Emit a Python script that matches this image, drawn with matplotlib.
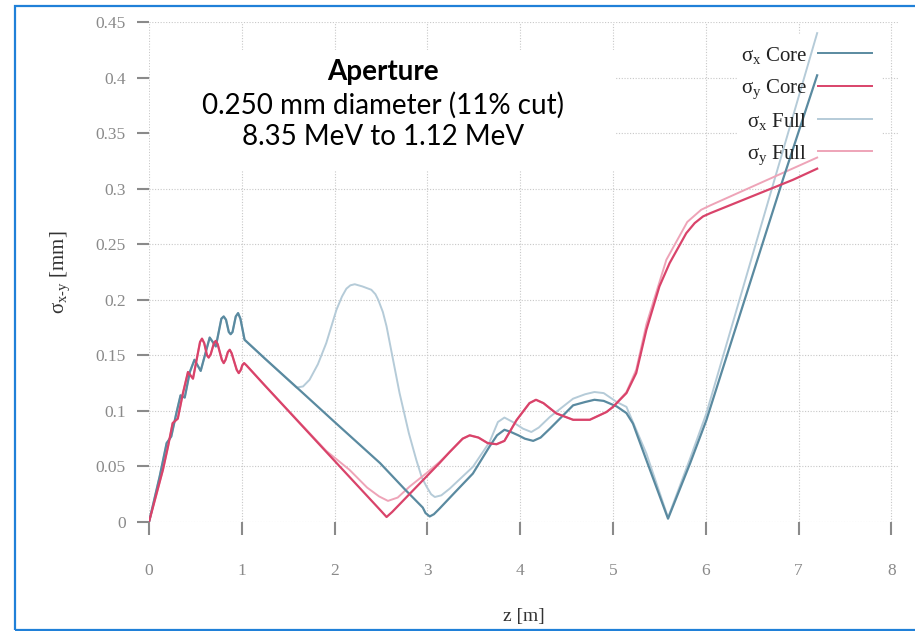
import matplotlib
matplotlib.use("Agg")
import matplotlib.pyplot as plt
from matplotlib.patches import Rectangle

plt.rcParams["font.family"] = ["Liberation Serif", "DejaVu Serif"]
plt.rcParams["mathtext.fontset"] = "custom"
plt.rcParams["mathtext.rm"] = "Liberation Serif"
plt.rcParams["mathtext.it"] = "Liberation Serif:italic"

# sigma_x core
z_sx_core = [0, 0.115, 0.19, 0.24, 0.295, 0.34, 0.385, 0.44, 0.49, 0.557, 0.654,
             0.72, 0.78, 0.805, 0.83, 0.86, 0.88, 0.90, 0.935, 0.96, 0.985, 1.03,
             1.25, 1.62, 2.0, 2.49, 2.75, 2.95, 2.98, 3.025, 3.07, 3.13, 3.3, 3.49,
             3.67, 3.75, 3.83, 3.9, 3.98, 4.05, 4.14, 4.22, 4.32, 4.57, 4.7, 4.80,
             4.9, 5.04, 5.145, 5.215, 5.36, 5.593, 5.83, 6.006, 6.83, 7.2]
y_sx_core = [0, 0.041, 0.071, 0.077, 0.098, 0.114, 0.112, 0.135, 0.146, 0.136, 0.166,
             0.158, 0.183, 0.185, 0.182, 0.171, 0.169, 0.171, 0.185, 0.188, 0.183, 0.164,
             0.147, 0.119, 0.090, 0.053, 0.030, 0.013, 0.008, 0.005, 0.007, 0.012, 0.027, 0.0436,
             0.068, 0.078, 0.083, 0.081, 0.078, 0.075, 0.073, 0.076, 0.084, 0.105, 0.108, 0.110,
             0.109, 0.104, 0.098, 0.0886, 0.0556, 0.003, 0.0526, 0.0916, 0.308, 0.402]

# sigma_x full
z_sx_full = [0, 0.115, 0.19, 0.24, 0.295, 0.34, 0.385, 0.44, 0.49, 0.557, 0.654,
             0.72, 0.78, 0.805, 0.83, 0.86, 0.88, 0.90, 0.935, 0.96, 0.985, 1.03,
             1.25, 1.59, 1.66, 1.73, 1.82, 1.91, 2.02, 2.08, 2.127, 2.17, 2.217, 2.30,
             2.396, 2.44, 2.47, 2.52, 2.56, 2.63, 2.70, 2.80, 2.88, 2.94, 2.99, 3.04,
             3.08, 3.15, 3.24, 3.49, 3.67, 3.76, 3.83, 3.92, 4.03, 4.12, 4.2, 4.32,
             4.57, 4.7, 4.80, 4.9, 5.04, 5.145, 5.36, 5.593, 5.83, 6.006, 6.74, 7.2]
y_sx_full = [0, 0.041, 0.071, 0.077, 0.098, 0.114, 0.112, 0.135, 0.146, 0.136, 0.166,
             0.158, 0.183, 0.185, 0.182, 0.171, 0.169, 0.171, 0.185, 0.188, 0.183, 0.164,
             0.147, 0.121, 0.122, 0.128, 0.142, 0.161, 0.191, 0.203, 0.210, 0.213, 0.214, 0.212,
             0.209, 0.205, 0.200, 0.189, 0.176, 0.146, 0.116, 0.080, 0.056, 0.040, 0.032, 0.025,
             0.0225, 0.024, 0.030, 0.0496, 0.072, 0.090, 0.094, 0.090, 0.084, 0.081, 0.085, 0.0946,
             0.111, 0.115, 0.117, 0.116, 0.108, 0.1036, 0.0616, 0.004, 0.057, 0.0977, 0.308, 0.440]

# sigma_y core
z_sy_core = [0, 0.15, 0.205, 0.255, 0.31, 0.366, 0.42, 0.474, 0.55, 0.571, 0.595,
             0.625, 0.643, 0.665, 0.70, 0.719, 0.74, 0.785, 0.805, 0.825, 0.85, 0.87,
             0.89, 0.945, 0.967, 0.99, 1.005, 1.025, 1.05, 1.247, 2.0, 2.5, 2.56,
             2.62, 3.13, 3.24, 3.38, 3.456, 3.55, 3.65, 3.745, 3.83, 3.96, 4.1, 4.17,
             4.25, 4.39, 4.57, 4.75, 4.93, 5.0, 5.145, 5.25, 5.36, 5.50, 5.61, 5.79,
             5.88, 5.97, 6.05, 6.94, 7.2]
y_sy_core = [0, 0.047, 0.068, 0.089, 0.093, 0.116, 0.135, 0.129, 0.162, 0.165, 0.161,
             0.150, 0.148, 0.151, 0.161, 0.163, 0.160, 0.146, 0.143, 0.146, 0.153, 0.155,
             0.152, 0.137, 0.134, 0.137, 0.141, 0.143, 0.141, 0.123, 0.055, 0.010, 0.0045,
             0.009, 0.053, 0.063, 0.075, 0.078, 0.076, 0.071, 0.070, 0.073, 0.0916, 0.107, 0.110,
             0.107, 0.0977, 0.092, 0.092, 0.099, 0.1036, 0.116, 0.134, 0.173, 0.212, 0.233, 0.260,
             0.269, 0.275, 0.278, 0.308, 0.318]

# sigma_y full
z_sy_full = [0, 0.15, 0.205, 0.255, 0.31, 0.366, 0.42, 0.474, 0.55, 0.571, 0.595,
             0.625, 0.643, 0.665, 0.70, 0.719, 0.74, 0.785, 0.805, 0.825, 0.85, 0.87,
             0.89, 0.945, 0.967, 0.99, 1.005, 1.025, 1.05, 1.247, 1.91, 2.16, 2.35,
             2.48, 2.575, 2.68, 2.81, 2.99, 3.13, 3.24, 3.38, 3.456, 3.55, 3.65, 3.745,
             3.83, 3.96, 4.1, 4.17, 4.25, 4.39, 4.57, 4.75, 4.93, 5.0, 5.145, 5.25,
             5.36, 5.575, 5.80, 5.95, 6.05, 7.2]
y_sy_full = [0, 0.047, 0.068, 0.089, 0.093, 0.116, 0.135, 0.129, 0.162, 0.165, 0.161,
             0.150, 0.148, 0.151, 0.161, 0.163, 0.160, 0.146, 0.143, 0.146, 0.153, 0.155,
             0.152, 0.137, 0.134, 0.137, 0.141, 0.143, 0.141, 0.123, 0.064, 0.047, 0.031,
             0.023, 0.019, 0.022, 0.032, 0.044, 0.054, 0.063, 0.075, 0.078, 0.076, 0.071, 0.070,
             0.073, 0.0916, 0.107, 0.110, 0.107, 0.0977, 0.092, 0.092, 0.099, 0.1036, 0.117, 0.137,
             0.178, 0.236, 0.270, 0.281, 0.285, 0.328]

x_ticks = [0, 1, 2, 3, 4, 5, 6, 7, 8]
y_ticks = [0, 0.05, 0.1, 0.15, 0.2, 0.25, 0.3, 0.35, 0.4, 0.45]
y_tick_labels = ["0", "0.05", "0.1", "0.15", "0.2", "0.25", "0.3", "0.35", "0.4", "0.45"]

labels = ["σ$_{\\rm x}$ Core", "σ$_{\\rm y}$ Core", "σ$_{\\rm x}$ Full", "σ$_{\\rm y}$ Full"]
colors = ["#5a8aa0", "#d9436a", "#b5cbd8", "#eea4b8"]

annot_lines = ["Aperture", "0.250 mm diameter (11% cut)", "8.35 MeV to 1.12 MeV"]

W, H = 915, 631
fig = plt.figure(figsize=(W / 100, H / 100), dpi=100)
ax = fig.add_axes([149 / W, 109 / H, 749 / W, 500 / H])

ax.plot(z_sx_full, y_sx_full, color=colors[2], lw=1.4, zorder=2)
ax.plot(z_sy_full, y_sy_full, color=colors[3], lw=1.4, zorder=2)
ax.plot(z_sx_core, y_sx_core, color=colors[0], lw=1.6, zorder=3)
ax.plot(z_sy_core, y_sy_core, color=colors[1], lw=1.6, zorder=3)

ax.set_xlim(0, 749 / 92.8)
ax.set_ylim(0, 0.45)
ax.set_xticks(x_ticks)
ax.set_yticks(y_ticks)
ax.set_yticklabels(y_tick_labels)
for s in ax.spines.values():
    s.set_visible(False)
ax.set_axisbelow(True)
ax.grid(True, ls=(0, (1, 1.5)), color="#c8c8c8", lw=0.8)
ax.tick_params(axis="y", direction="out", length=8.6, width=1.5, color="#8a8a8a",
               pad=8, labelsize=12.5, labelcolor="#8a8a8a")
ax.tick_params(axis="x", direction="out", length=9.4, width=1.5, color="#8a8a8a",
               pad=20, labelsize=12.5, labelcolor="#8a8a8a")

ax.set_xlabel("z [m]", fontsize=14, color="#333333", va="center")
ax.xaxis.set_label_coords(0.5, (522 - 617) / 500)
ax.set_ylabel("σ$_{\\rm x\\text{-}y}$ [mm]", fontsize=15, color="#333333", va="center")
ax.yaxis.set_label_coords((60 - 149) / 749, 0.5)

# white boxes behind annotation and legend (they hide the grid)
ax.add_patch(Rectangle((0.002, 0.704), 0.62, 0.24, transform=ax.transAxes,
                       fc="white", ec="none", zorder=1))
ax.add_patch(Rectangle((0.785, 0.704), 0.194, 0.27, transform=ax.transAxes,
                       fc="white", ec="none", zorder=1))

# annotation
ax.text(0.3124, 0.90, annot_lines[0], transform=ax.transAxes, ha="center", va="center",
        fontsize=20, fontweight="bold", family="Lato", zorder=4)
ax.text(0.3124, 0.834, annot_lines[1], transform=ax.transAxes, ha="center", va="center",
        fontsize=20, family="Lato", zorder=4)
ax.text(0.3124, 0.77, annot_lines[2], transform=ax.transAxes, ha="center", va="center",
        fontsize=20, family="Lato", zorder=4)

# legend
rows = [0.939, 0.873, 0.807, 0.742]
for lab, col, yr in zip(labels, colors, rows):
    ax.plot([0.893, 0.965], [yr, yr], color=col, lw=1.4, transform=ax.transAxes,
            clip_on=False, zorder=4)
    ax.text(0.8785, yr, lab, transform=ax.transAxes, ha="right", va="center_baseline",
            fontsize=15, color="#222222", zorder=4)

fig.add_artist(Rectangle((15 / W, 1.5 / H), 1.0, 624 / H, transform=fig.transFigure,
                         fill=False, ec="#2080d8", lw=1.6))

fig.savefig("out.png", dpi=100)
